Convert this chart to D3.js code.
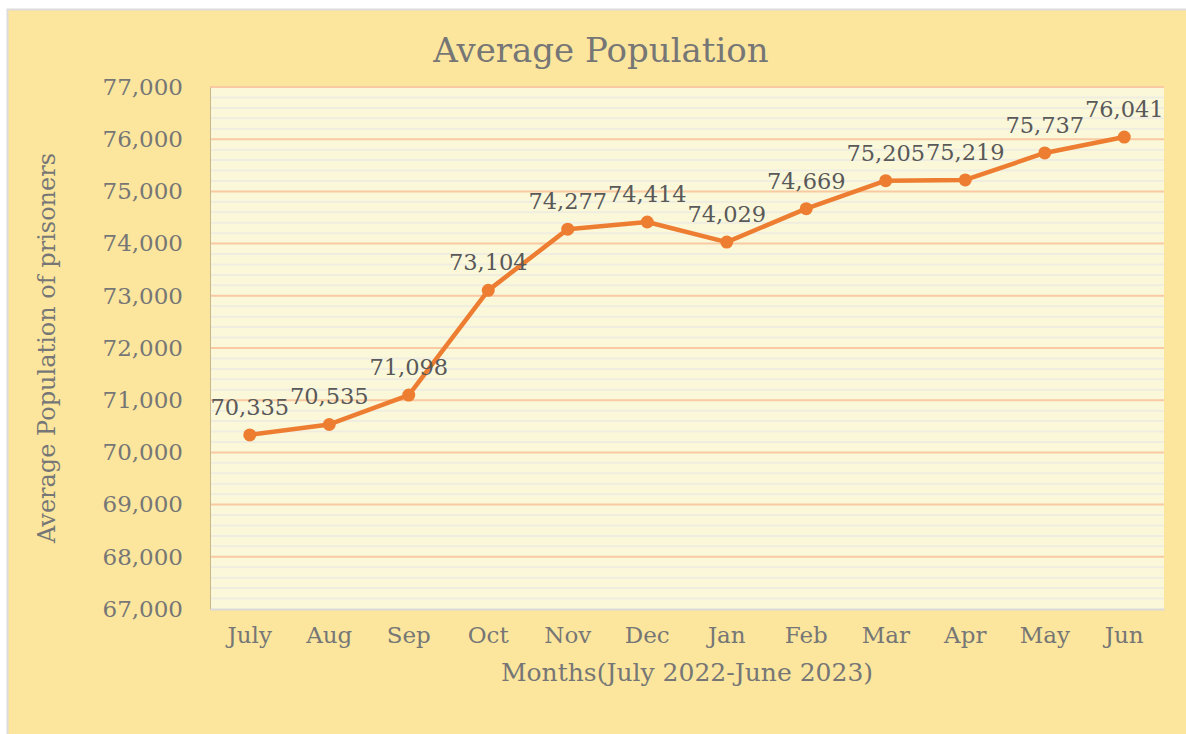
<!DOCTYPE html>
<html>
<head>
<meta charset="utf-8">
<script src="https://cdn.jsdelivr.net/npm/d3@7"></script>
<style>
  body { margin: 0; background: #fff; }
  svg text { font-family: "DejaVu Serif", "Liberation Serif", serif; }
</style>
</head>
<body>
<script>
// prison population per month, July 2022 - June 2023
let months = ["July", "Aug", "Sep", "Oct", "Nov", "Dec", "Jan", "Feb", "Mar", "Apr", "May", "Jun"];
let population = [70335, 70535, 71098, 73104, 74277, 74414, 74029, 74669, 75205, 75219, 75737, 76041];
let yTicks = [67000, 68000, 69000, 70000, 71000, 72000, 73000, 74000, 75000, 76000, 77000];

let width = 1186,
    height = 734;

let plot = {left: 210, right: 1164, top: 87, bottom: 609};

let svg = d3.select("body").append("svg")
    .attr("width", width)
    .attr("height", height);

// chart frame
svg.append("rect")
    .attr("x", 7.5).attr("y", 9.5)
    .attr("width", width - 6).attr("height", height)
    .attr("fill", "#fce69d")
    .attr("stroke", "#dcdcdc")
    .attr("stroke-width", 2);

let x = d3.scaleBand()
    .domain(months)
    .range([plot.left, plot.right]);

let y = d3.scaleLinear()
    .domain([67000, 77000])
    .range([plot.bottom, plot.top]);

svg.append("rect")
    .attr("x", plot.left).attr("y", plot.top)
    .attr("width", plot.right - plot.left)
    .attr("height", plot.bottom - plot.top)
    .attr("fill", "#fbf8da");

// minor grid every 200
let minor = d3.range(67200, 77000, 200).filter(v => v % 1000 != 0);
svg.append("g").selectAll("line")
    .data(minor).enter().append("line")
    .attr("x1", plot.left).attr("x2", plot.right)
    .attr("y1", d => y(d)).attr("y2", d => y(d))
    .attr("stroke", "#efede0")
    .attr("stroke-width", 2);

// major grid
svg.append("g").selectAll("line")
    .data(yTicks.slice(1)).enter().append("line")
    .attr("x1", plot.left).attr("x2", plot.right)
    .attr("y1", d => y(d)).attr("y2", d => y(d))
    .attr("stroke", "#f8c9a2")
    .attr("stroke-width", 2);

// axes
let yAxis = svg.append("g")
    .attr("transform", `translate(${plot.left},0)`)
    .call(d3.axisLeft(y).tickValues(yTicks).tickFormat(d3.format(",")).tickSize(0).tickPadding(27));
yAxis.select(".domain").attr("stroke", "#c8b88a");
yAxis.selectAll("text").attr("font-size", 23).attr("fill", "#767676")
    .style("font-family", "DejaVu Serif");

let xAxis = svg.append("g")
    .attr("transform", `translate(0,${plot.bottom})`)
    .call(d3.axisBottom(x).tickSize(0).tickPadding(18));
xAxis.select(".domain").attr("stroke", "#d9d9d9").attr("stroke-width", 2);
xAxis.selectAll("text").attr("font-size", 23).attr("fill", "#767676")
    .style("font-family", "DejaVu Serif");

// titles
svg.append("text")
    .attr("x", 601).attr("y", 62)
    .attr("text-anchor", "middle")
    .attr("font-size", 34)
    .attr("fill", "#767676")
    .text("Average Population");

svg.append("text")
    .attr("x", (plot.left + plot.right) / 2).attr("y", 681)
    .attr("text-anchor", "middle")
    .attr("font-size", 25)
    .attr("fill", "#767676")
    .text("Months(July 2022-June 2023)");

svg.append("text")
    .attr("transform", `translate(55,${(plot.top + plot.bottom) / 2}) rotate(-90)`)
    .attr("text-anchor", "middle")
    .attr("font-size", 24)
    .attr("fill", "#767676")
    .text("Average Population of prisoners");

// series
let cx = (d, i) => x(months[i]) + x.bandwidth() / 2;

let line = d3.line()
    .x(cx)
    .y(d => y(d));

svg.append("path")
    .datum(population)
    .attr("d", line)
    .attr("fill", "none")
    .attr("stroke", "#ed7d31")
    .attr("stroke-width", 4.5)
    .attr("stroke-linejoin", "round");

svg.append("g").selectAll("circle")
    .data(population).enter().append("circle")
    .attr("cx", cx)
    .attr("cy", d => y(d))
    .attr("r", 6.5)
    .attr("fill", "#ed7d31");

svg.append("g").selectAll("text")
    .data(population).enter().append("text")
    .attr("x", cx)
    .attr("y", d => y(d) - 20)
    .attr("text-anchor", "middle")
    .attr("font-size", 22.5)
    .attr("fill", "#595959")
    .text(d => d3.format(",")(d));
</script>
</body>
</html>
